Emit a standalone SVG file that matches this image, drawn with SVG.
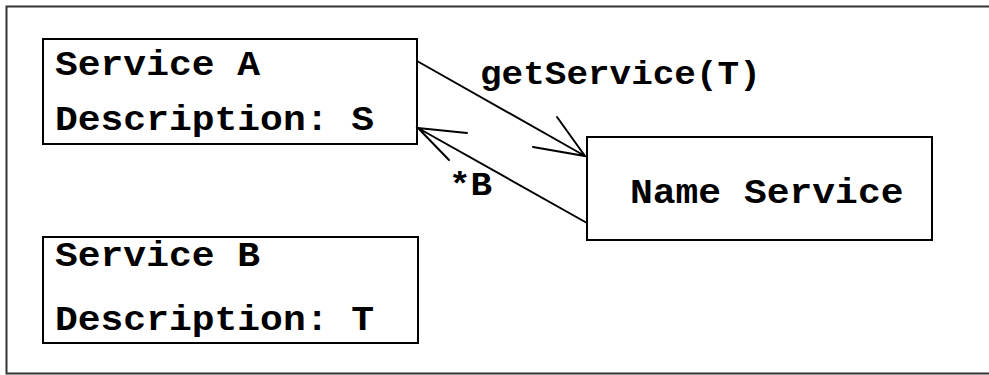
<svg xmlns="http://www.w3.org/2000/svg" width="989" height="375" viewBox="0 0 989 375">
<style>
.box{fill:#fff;stroke:#000;stroke-width:2}
.t{font-family:"Liberation Mono","Courier New",monospace;font-weight:bold;font-size:38px;fill:#000}
.l{font-size:36px}
.c{fill:none;stroke:#000;stroke-width:2;stroke-linecap:round}
</style>
<rect x="0" y="0" width="989" height="375" fill="#fff"/>
<path d="M995,6.5 H6.5 V373.5 H995" fill="none" stroke="#333" stroke-width="2"/>
<g id="serviceA">
<rect class="box" x="43" y="39" width="374" height="105"/>
<text class="t" transform="translate(55,75) scale(1,0.9)">Service A</text>
<text class="t" transform="translate(55,130) scale(1,0.9)">Description: S</text>
</g>
<g id="serviceB">
<rect class="box" x="43" y="237" width="375" height="106"/>
<text class="t" transform="translate(55,266) scale(1,0.9)">Service B</text>
<text class="t" transform="translate(55,330) scale(1,0.9)">Description: T</text>
</g>
<g id="nameService">
<rect class="box" x="587" y="137" width="345" height="103"/>
<text class="t" transform="translate(630,203) scale(1,0.9)">Name Service</text>
</g>
<g id="connectors">
<path class="c" d="M417,61 L585,156 M557,117 L585,156 L533,147"/>
<path class="c" d="M587,223 L418,128 M467,133 L418,128 L449,160"/>
<text class="t l" transform="translate(480,84) scale(1,0.9)">getService(T)</text>
<text class="t l" transform="translate(449,195) scale(1,0.9)">*B</text>
</g>
</svg>
